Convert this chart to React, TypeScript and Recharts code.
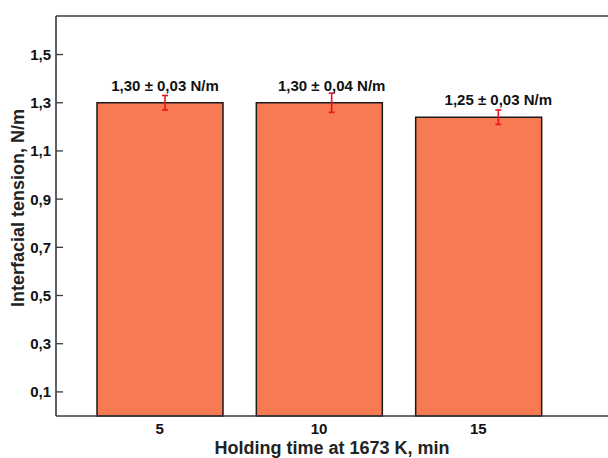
import { FC } from 'react'
import {
  BarChart,
  Bar,
  XAxis,
  YAxis,
  ErrorBar,
  LabelList,
  ReferenceLine,
  Label,
} from 'recharts'

const times = ['5', '10', '15']
const tension = [1.3, 1.3, 1.24]
const errors = [0.03, 0.04, 0.03]
const labels = ['1,30 ± 0,03 N/m', '1,30 ± 0,04 N/m', '1,25 ± 0,03 N/m']
const yTicks = [0.1, 0.3, 0.5, 0.7, 0.9, 1.1, 1.3, 1.5]
const yMax = 1.66

const data = times.map((t, i) => ({
  time: t,
  value: tension[i],
  err: errors[i],
  label: labels[i],
}))

const font = '"Liberation Sans", Arial, sans-serif'
const axisColor = '#3a3a3a'

const YTick = (props: any) => {
  const { x, y, payload } = props
  return (
    <g>
      <line x1={x} x2={x + 7} y1={y} y2={y} stroke={axisColor} strokeWidth={1.3} />
      <text
        x={x - 5}
        y={y}
        textAnchor="end"
        dominantBaseline="central"
        fontFamily={font}
        fontWeight="bold"
        fontSize={15}
        fill="#111"
      >
        {payload.value.toFixed(1).replace('.', ',')}
      </text>
    </g>
  )
}

const YLabel = () => (
  <text
    transform="translate(18,208) rotate(-90)"
    textAnchor="middle"
    dominantBaseline="central"
    fontFamily={font}
    fontWeight="bold"
    fontSize={18}
    fill="#222"
  >
    Interfacial tension, N/m
  </text>
)

const App: FC = () => {
  return (
    <div style={{ position: 'absolute', left: 0, top: 0, background: '#fff' }}>
      <BarChart
        width={608}
        height={458}
        data={data}
        margin={{ top: 16, right: 0, left: 0, bottom: 0 }}
      >
        <XAxis
          dataKey="time"
          height={42}
          padding={{ left: 24, right: 50 }}
          axisLine={{ stroke: axisColor, strokeWidth: 1.6 }}
          tickLine={false}
          tickSize={0}
          tickMargin={7}
          tick={{ fontFamily: font, fontWeight: 'bold', fontSize: 15, fill: '#111' }}
        >
          <Label
            value="Holding time at 1673 K, min"
            position="insideBottom"
            offset={4}
            style={{ fontFamily: font, fontWeight: 'bold', fontSize: 18, fill: '#222' }}
          />
        </XAxis>
        <XAxis xAxisId="lab" dataKey="time" hide padding={{ left: 26, right: 26 }} />
        <YAxis
          width={56}
          domain={[0, yMax]}
          ticks={yTicks}
          tickLine={false}
          tickSize={0}
          tickMargin={0}
          tick={<YTick />}
          axisLine={{ stroke: axisColor, strokeWidth: 1.6 }}
          label={<YLabel />}
        />
        <ReferenceLine y={yMax} stroke={axisColor} strokeWidth={1.6} />
        <Bar
          dataKey="value"
          fill="#F87A52"
          stroke="#1a1a1a"
          strokeWidth={1.5}
          barSize={126}
          isAnimationActive={false}
        />
        <Bar
          xAxisId="lab"
          dataKey="value"
          fill="none"
          barSize={150}
          isAnimationActive={false}
        >
          <ErrorBar dataKey="err" width={3} stroke="#e8141c" strokeWidth={1.6} />
          <LabelList
            dataKey="label"
            position="top"
            offset={12}
            style={{ fontFamily: font, fontWeight: 'bold', fontSize: 15, fill: '#111' }}
          />
        </Bar>
      </BarChart>
    </div>
  )
}

export default App
